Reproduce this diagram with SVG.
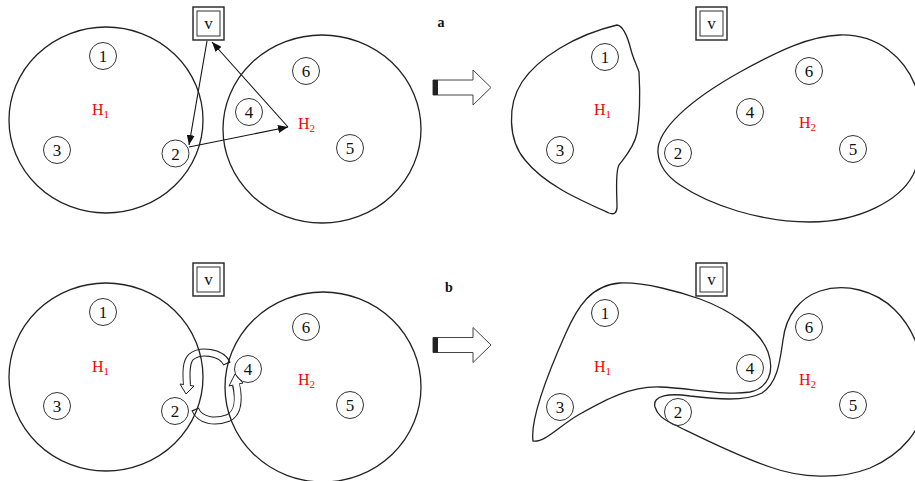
<svg xmlns="http://www.w3.org/2000/svg" width="915" height="481" viewBox="0 0 915 481">
<style>
.big{fill:none;stroke:#222;stroke-width:1.3}
.nd{fill:none;stroke:#333;stroke-width:1}
.num{font-family:"Liberation Serif",serif;font-size:17px;text-anchor:middle;fill:#111}
.h{font-family:"Liberation Serif",serif;font-size:16px;fill:#ff0000}
.sub{font-size:11px}
.lbl{font-family:"Liberation Serif",serif;font-size:14px;font-weight:bold;text-anchor:middle;fill:#111}
.vb{fill:#fff;stroke:#222;stroke-width:1.4}
.vi{fill:none;stroke:#333;stroke-width:1}
.ln{fill:none;stroke:#111;stroke-width:1.1}
.blk{fill:#fff;stroke:#444;stroke-width:1}
.bo{fill:none;stroke:#222;stroke-width:8}
.bi{fill:none;stroke:#fff;stroke-width:6;stroke-dasharray:0 1.2 1000}
.bh{fill:#fff;stroke:#222;stroke-width:1}
</style>
<defs>
<marker id="ah" viewBox="0 0 10 8" refX="10" refY="4" markerWidth="10" markerHeight="8" markerUnits="userSpaceOnUse" orient="auto">
<path d="M0,0 L10,4 L0,8 Z" fill="#111"/>
</marker>
</defs>

<g id="connectors">
<line class="ln" x1="207" y1="41" x2="189" y2="145" marker-end="url(#ah)"/>
<line class="ln" x1="288" y1="127" x2="212" y2="42" marker-end="url(#ah)"/>
<line class="ln" x1="189" y1="147" x2="288" y2="127" marker-end="url(#ah)"/>
<path class="bo" d="M227,364 C222,352 200,349 191,357 C186,362 186,372 187,385"/>
<polygon class="bh" points="180,384 194,386 186,394"/>
<path class="bi" d="M227,364 C222,352 200,349 191,357 C186,362 186,372 187,387"/>
<path class="bo" d="M195,409 C200,421 215,423 228,418 C239,413 239,398 236,385"/>
<polygon class="bh" points="229,386 243,383 235,374"/>
<path class="bi" d="M195,409 C200,421 215,423 228,418 C239,413 239,398 236,383"/>
</g>

<g id="label-a"><text class="lbl" x="441" y="27">a</text></g>
<g id="label-b"><text class="lbl" x="449" y="292">b</text></g>

<g id="arrow-a">
<polygon class="blk" points="433,80 473,80 473,70 491,87.5 473,105 473,95 433,95"/>
<rect x="433" y="80" width="5" height="15" fill="#222"/>
</g>
<g id="arrow-b">
<polygon class="blk" points="433,337.5 473,337.5 473,327.5 491,345 473,362.5 473,352.5 433,352.5"/>
<rect x="433" y="337.5" width="5" height="15" fill="#222"/>
</g>

<g id="a-H1"><ellipse class="big" cx="106" cy="120" rx="97" ry="93"/><text class="h" x="92" y="115">H<tspan class="sub" dy="3">1</tspan></text></g>
<g id="a-H2"><ellipse class="big" cx="322" cy="129" rx="99" ry="94"/><text class="h" x="298" y="129">H<tspan class="sub" dy="3">2</tspan></text></g>
<g id="a-v"><rect class="vb" x="193" y="7" width="31" height="33"/><rect class="vi" x="197" y="11" width="23" height="25"/><text class="num" x="208.5" y="29">v</text></g>
<g id="a-n1"><circle class="nd" cx="103" cy="56" r="13.5"/><text class="num" x="103" y="62">1</text></g>
<g id="a-n2"><circle class="nd" cx="175.5" cy="153.5" r="13.5"/><text class="num" x="175.5" y="159.5">2</text></g>
<g id="a-n3"><circle class="nd" cx="57" cy="150" r="13.5"/><text class="num" x="57" y="156">3</text></g>
<g id="a-n4"><circle class="nd" cx="249" cy="112" r="13.5"/><text class="num" x="249" y="118">4</text></g>
<g id="a-n5"><circle class="nd" cx="350" cy="148" r="13.5"/><text class="num" x="350" y="154">5</text></g>
<g id="a-n6"><circle class="nd" cx="306" cy="71" r="13.5"/><text class="num" x="306" y="77">6</text></g>

<g id="ar-H1"><path class="big" d="M617,25 C624,26 628,38 631,50 C633,58 637,66 639,72 C640,90 640,115 637,133 C634,148 624,158 619,165 C615,172 617,195 617,207 C617,213 614,215 609,213 C580,200 545,185 525,160 C508,140 507,105 522,82 C538,58 575,35 617,25 Z"/><text class="h" x="594" y="115">H<tspan class="sub" dy="3">1</tspan></text></g>
<g id="ar-H2"><path class="big" d="M658,153 C656,130 690,100 740,72 C780,50 810,36 840,35 C880,34 905,60 915,85 C925,110 925,150 913,175 C900,200 860,222 810,222 C760,222 710,205 680,185 C665,175 659,165 658,153 Z"/><text class="h" x="799" y="128">H<tspan class="sub" dy="3">2</tspan></text></g>
<g id="ar-v"><rect class="vb" x="696" y="7" width="31" height="33"/><rect class="vi" x="700" y="11" width="23" height="25"/><text class="num" x="711.5" y="29">v</text></g>
<g id="ar-n1"><circle class="nd" cx="605" cy="57" r="13.5"/><text class="num" x="605" y="63">1</text></g>
<g id="ar-n3"><circle class="nd" cx="560" cy="150" r="13.5"/><text class="num" x="560" y="156">3</text></g>
<g id="ar-n2"><circle class="nd" cx="678" cy="153" r="13.5"/><text class="num" x="678" y="159">2</text></g>
<g id="ar-n4"><circle class="nd" cx="750" cy="112" r="13.5"/><text class="num" x="750" y="118">4</text></g>
<g id="ar-n5"><circle class="nd" cx="853" cy="149" r="13.5"/><text class="num" x="853" y="155">5</text></g>
<g id="ar-n6"><circle class="nd" cx="809" cy="71" r="13.5"/><text class="num" x="809" y="77">6</text></g>

<g id="b-H1"><ellipse class="big" cx="106" cy="377" rx="97" ry="94"/><text class="h" x="92" y="372">H<tspan class="sub" dy="3">1</tspan></text></g>
<g id="b-H2"><ellipse class="big" cx="323" cy="387" rx="98" ry="95"/><text class="h" x="298" y="385">H<tspan class="sub" dy="3">2</tspan></text></g>
<g id="b-v"><rect class="vb" x="193" y="263" width="31" height="33"/><rect class="vi" x="197" y="267" width="23" height="25"/><text class="num" x="208.5" y="285">v</text></g>
<g id="b-n1"><circle class="nd" cx="103" cy="312" r="13.5"/><text class="num" x="103" y="318">1</text></g>
<g id="b-n2"><circle class="nd" cx="175" cy="411" r="13.5"/><text class="num" x="175" y="417">2</text></g>
<g id="b-n3"><circle class="nd" cx="57" cy="406" r="13.5"/><text class="num" x="57" y="412">3</text></g>
<g id="b-n4"><circle class="nd" cx="248" cy="369" r="13.5"/><text class="num" x="248" y="375">4</text></g>
<g id="b-n5"><circle class="nd" cx="350" cy="405" r="13.5"/><text class="num" x="350" y="411">5</text></g>
<g id="b-n6"><circle class="nd" cx="306" cy="327" r="13.5"/><text class="num" x="306" y="333">6</text></g>

<g id="br-H1"><path class="big" d="M533,441 C530,420 545,380 565,335 C578,305 592,285 620,283 C645,282 680,292 700,299 C730,310 760,330 768,352 C775,372 768,388 750,392 C725,396 690,388 660,387 C630,386 605,400 580,414 C560,425 545,443 533,441 Z"/><text class="h" x="594" y="372">H<tspan class="sub" dy="3">1</tspan></text></g>
<g id="br-H2"><path class="big" d="M655,407 C652,395 670,393 690,396 C715,399 745,402 762,393 C778,383 780,360 783,340 C786,315 800,298 820,291 C845,283 875,290 895,310 C915,330 925,360 925,395 C925,430 900,455 870,468 C840,480 800,478 770,467 C735,455 700,437 675,425 C662,419 657,414 655,407 Z"/><text class="h" x="799" y="385">H<tspan class="sub" dy="3">2</tspan></text></g>
<g id="br-v"><rect class="vb" x="696" y="263" width="31" height="33"/><rect class="vi" x="700" y="267" width="23" height="25"/><text class="num" x="711.5" y="285">v</text></g>
<g id="br-n1"><circle class="nd" cx="605" cy="313" r="13.5"/><text class="num" x="605" y="319">1</text></g>
<g id="br-n3"><circle class="nd" cx="560" cy="407" r="13.5"/><text class="num" x="560" y="413">3</text></g>
<g id="br-n4"><circle class="nd" cx="750" cy="368" r="13.5"/><text class="num" x="750" y="374">4</text></g>
<g id="br-n2"><circle class="nd" cx="678" cy="412" r="13.5"/><text class="num" x="678" y="418">2</text></g>
<g id="br-n5"><circle class="nd" cx="853" cy="405" r="13.5"/><text class="num" x="853" y="411">5</text></g>
<g id="br-n6"><circle class="nd" cx="809" cy="327" r="13.5"/><text class="num" x="809" y="333">6</text></g>
</svg>
